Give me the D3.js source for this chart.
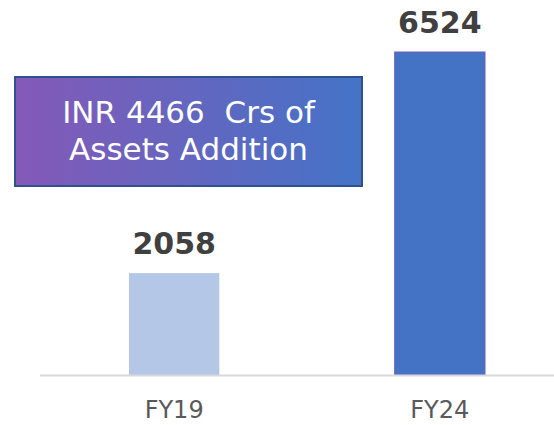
<!DOCTYPE html>
<html>
<head>
<meta charset="utf-8">
<script src="https://cdn.jsdelivr.net/npm/d3@7"></script>
<style>
  html, body { margin: 0; padding: 0; background: #ffffff; }
  svg { display: block; }
</style>
</head>
<body>
<div id="area"></div>
<script>
var width = 554,
    height = 425;

// data
var categories = ['FY19', 'FY24'];
var values = [2058, 6524];
var barColors = ['#b4c7e7', '#4472c4'];
var barStrokes = ['none', '#6a62b0'];
var calloutLines = ['INR 4466  Crs of', 'Assets Addition'];

var baseY = 375;

var svg = d3.select('#area').append('svg')
    .attr('width', width)
    .attr('height', height);

var x = d3.scaleBand()
    .domain(categories)
    .range([40, 574])
    .paddingInner(0.66)
    .paddingOuter(0.335);

var y = d3.scaleLinear()
    .domain([0, 6524])
    .range([baseY, 52]);

// bars
svg.selectAll('rect.bar')
    .data(values)
    .enter().append('rect')
    .attr('class', 'bar')
    .attr('x', function(d, i) { return x(categories[i]); })
    .attr('y', function(d) { return y(d); })
    .attr('width', x.bandwidth())
    .attr('height', function(d) { return baseY - y(d); })
    .attr('fill', function(d, i) { return barColors[i]; })
    .attr('stroke', function(d, i) { return barStrokes[i]; })
    .attr('stroke-width', 1);

// baseline
svg.append('line')
    .attr('x1', 40).attr('x2', width)
    .attr('y1', baseY + 0.5).attr('y2', baseY + 0.5)
    .attr('stroke', '#d9d9d9')
    .attr('stroke-width', 2);

// value labels
svg.selectAll('text.value')
    .data(values)
    .enter().append('text')
    .attr('class', 'value')
    .attr('x', function(d, i) { return x(categories[i]) + x.bandwidth() / 2; })
    .attr('y', function(d) { return y(d) - 19; })
    .attr('text-anchor', 'middle')
    .attr('font-family', 'DejaVu Sans, sans-serif')
    .attr('font-weight', 'bold')
    .attr('font-size', '30px')
    .attr('fill', '#404040')
    .text(function(d) { return d; });

// category labels
svg.selectAll('text.cat')
    .data(categories)
    .enter().append('text')
    .attr('class', 'cat')
    .attr('x', function(d) { return x(d) + x.bandwidth() / 2; })
    .attr('y', 418)
    .attr('text-anchor', 'middle')
    .attr('font-family', 'DejaVu Sans, sans-serif')
    .attr('font-size', '24px')
    .attr('fill', '#595959')
    .text(function(d) { return d; });

// callout box
var defs = svg.append('defs');
var grad = defs.append('linearGradient')
    .attr('id', 'boxGrad')
    .attr('x1', '0%').attr('x2', '100%')
    .attr('y1', '0%').attr('y2', '0%');
grad.append('stop').attr('offset', '0%').attr('stop-color', '#8559b8');
grad.append('stop').attr('offset', '100%').attr('stop-color', '#4373c7');

var box = svg.append('g').attr('transform', 'translate(15, 77)');
box.append('rect')
    .attr('width', 347)
    .attr('height', 109)
    .attr('fill', 'url(#boxGrad)')
    .attr('stroke', '#2f528f')
    .attr('stroke-width', 2);

box.selectAll('text')
    .data(calloutLines)
    .enter().append('text')
    .attr('x', 173.5)
    .attr('y', function(d, i) { return 46 + i * 37; })
    .attr('text-anchor', 'middle')
    .attr('font-family', 'DejaVu Sans, sans-serif')
    .attr('font-size', '31px')
    .attr('fill', '#ffffff')
    .style('white-space', 'pre')
    .attr('xml:space', 'preserve')
    .text(function(d) { return d; });
</script>
</body>
</html>
